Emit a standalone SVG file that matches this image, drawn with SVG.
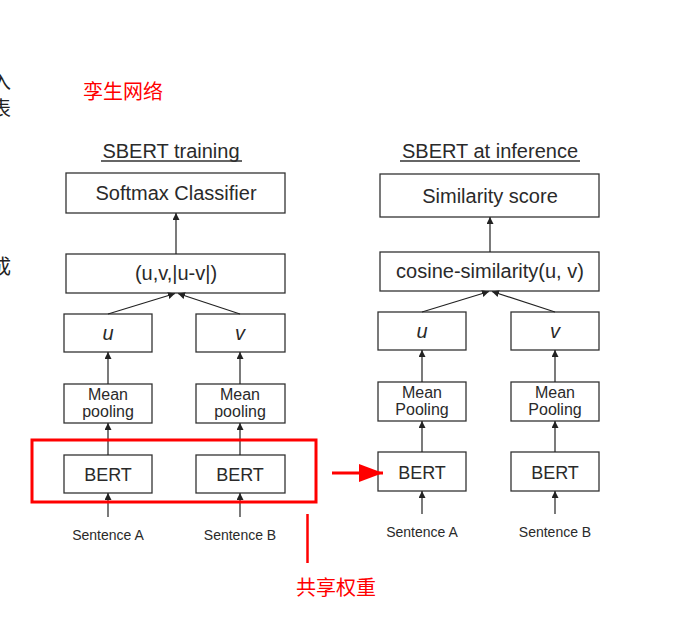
<svg xmlns="http://www.w3.org/2000/svg" width="682" height="639" viewBox="0 0 682 639">
<defs>
<marker id="ah" viewBox="0 0 10 10" refX="10" refY="5" markerWidth="7" markerHeight="7" markerUnits="userSpaceOnUse" orient="auto"><path d="M0,0 L10,5 L0,10 z" fill="#222"/></marker>
<marker id="rh" viewBox="0 0 10 10" refX="10" refY="5" markerWidth="24" markerHeight="18" markerUnits="userSpaceOnUse" orient="auto" preserveAspectRatio="none"><path d="M0,0 L10,5 L0,10 z" fill="#ff0000"/></marker>
</defs>
<style>
.box{fill:#fff;stroke:#333;stroke-width:1.3}
.t{font-family:"Liberation Sans",Arial,sans-serif;fill:#2a2a2a;text-anchor:middle}
.big{font-size:20px}
.mid{font-size:18px}
.sm{font-size:16px}
.xs{font-size:14px}
.cn{font-family:"Noto Sans CJK SC",sans-serif;font-size:20px}
.red{fill:#ff0000}
.c{stroke:#222;stroke-width:1.2;fill:none;marker-end:url(#ah)}
</style>
<rect width="682" height="639" fill="#fff"/>
<g id="edge-text">
<text class="cn" x="11" y="89" text-anchor="end" fill="#222">入</text>
<text class="cn" x="11" y="116" text-anchor="end" fill="#222">表</text>
<text class="cn" x="11" y="274" text-anchor="end" fill="#222">成</text>
</g>
<g id="label-siamese"><text class="cn red" x="83" y="99">孪生网络</text></g>
<g id="title-train">
<text class="t big" x="171" y="158">SBERT training</text>
<line x1="101" y1="161" x2="242" y2="161" stroke="#333" stroke-width="1.3"/>
</g>
<g id="title-infer">
<text class="t big" x="490" y="158">SBERT at inference</text>
<line x1="400" y1="161" x2="580" y2="161" stroke="#333" stroke-width="1.3"/>
</g>
<g id="softmax"><rect class="box" x="66" y="173" width="219" height="40"/><text class="t big" x="176" y="200">Softmax Classifier</text></g>
<g id="uvconcat"><rect class="box" x="66" y="254" width="219" height="39"/><text class="t big" x="176" y="280">(u,v,|u-v|)</text></g>
<g id="u-train"><rect class="box" x="64" y="314" width="88" height="38"/><text class="t big" x="108" y="340" font-style="italic">u</text></g>
<g id="v-train"><rect class="box" x="196" y="314" width="89" height="38"/><text class="t big" x="240" y="340" font-style="italic">v</text></g>
<g id="pool-a-train"><rect class="box" x="64" y="384" width="88" height="39"/><text class="t sm" x="108" y="400">Mean</text><text class="t sm" x="108" y="417">pooling</text></g>
<g id="pool-b-train"><rect class="box" x="196" y="384" width="89" height="39"/><text class="t sm" x="240" y="400">Mean</text><text class="t sm" x="240" y="417">pooling</text></g>
<g id="bert-a-train"><rect class="box" x="64" y="455" width="88" height="38"/><text class="t mid" x="108" y="481">BERT</text></g>
<g id="bert-b-train"><rect class="box" x="196" y="455" width="89" height="38"/><text class="t mid" x="240" y="481">BERT</text></g>
<g id="sent-a-train"><text class="t xs" x="108" y="540">Sentence A</text></g>
<g id="sent-b-train"><text class="t xs" x="240" y="540">Sentence B</text></g>

<g id="simscore"><rect class="box" x="380" y="174" width="219" height="43"/><text class="t big" x="490" y="203">Similarity score</text></g>
<g id="cosine"><rect class="box" x="380" y="252" width="219" height="39"/><text class="t big" x="490" y="278">cosine-similarity(u, v)</text></g>
<g id="u-inf"><rect class="box" x="378" y="312" width="88" height="38"/><text class="t big" x="422" y="338" font-style="italic">u</text></g>
<g id="v-inf"><rect class="box" x="511" y="312" width="88" height="38"/><text class="t big" x="555" y="338" font-style="italic">v</text></g>
<g id="pool-a-inf"><rect class="box" x="378" y="382" width="88" height="39"/><text class="t sm" x="422" y="398">Mean</text><text class="t sm" x="422" y="415">Pooling</text></g>
<g id="pool-b-inf"><rect class="box" x="511" y="382" width="88" height="39"/><text class="t sm" x="555" y="398">Mean</text><text class="t sm" x="555" y="415">Pooling</text></g>
<g id="bert-a-inf"><rect class="box" x="378" y="452" width="88" height="39"/><text class="t mid" x="422" y="479">BERT</text></g>
<g id="bert-b-inf"><rect class="box" x="511" y="452" width="88" height="39"/><text class="t mid" x="555" y="479">BERT</text></g>
<g id="sent-a-inf"><text class="t xs" x="422" y="537">Sentence A</text></g>
<g id="sent-b-inf"><text class="t xs" x="555" y="537">Sentence B</text></g>

<g id="connectors">
<line class="c" x1="176" y1="254" x2="176" y2="213"/>
<line class="c" x1="108" y1="314" x2="175" y2="293.5"/>
<line class="c" x1="240" y1="314" x2="178" y2="293.5"/>
<line class="c" x1="108" y1="384" x2="108" y2="352"/>
<line class="c" x1="240" y1="384" x2="240" y2="352"/>
<line class="c" x1="108" y1="455" x2="108" y2="423"/>
<line class="c" x1="240" y1="455" x2="240" y2="423"/>
<line class="c" x1="108" y1="517" x2="108" y2="493"/>
<line class="c" x1="240" y1="517" x2="240" y2="493"/>
<line class="c" x1="490" y1="252" x2="490" y2="217"/>
<line class="c" x1="422" y1="312" x2="489" y2="291.5"/>
<line class="c" x1="555" y1="312" x2="492" y2="291.5"/>
<line class="c" x1="422" y1="382" x2="422" y2="350"/>
<line class="c" x1="555" y1="382" x2="555" y2="350"/>
<line class="c" x1="422" y1="452" x2="422" y2="421"/>
<line class="c" x1="555" y1="452" x2="555" y2="421"/>
<line class="c" x1="422" y1="514" x2="422" y2="491"/>
<line class="c" x1="555" y1="514" x2="555" y2="491"/>
</g>
<g id="shared-box">
<rect x="32" y="440" width="284" height="62" fill="none" stroke="#ff0000" stroke-width="3"/>
<line x1="307.5" y1="514" x2="307.5" y2="563" stroke="#ff0000" stroke-width="2.5"/>
<line x1="332" y1="473" x2="383" y2="473" stroke="#ff0000" stroke-width="3" marker-end="url(#rh)"/>
</g>
<g id="label-shared"><text class="cn red" x="296" y="595">共享权重</text></g>
</svg>
